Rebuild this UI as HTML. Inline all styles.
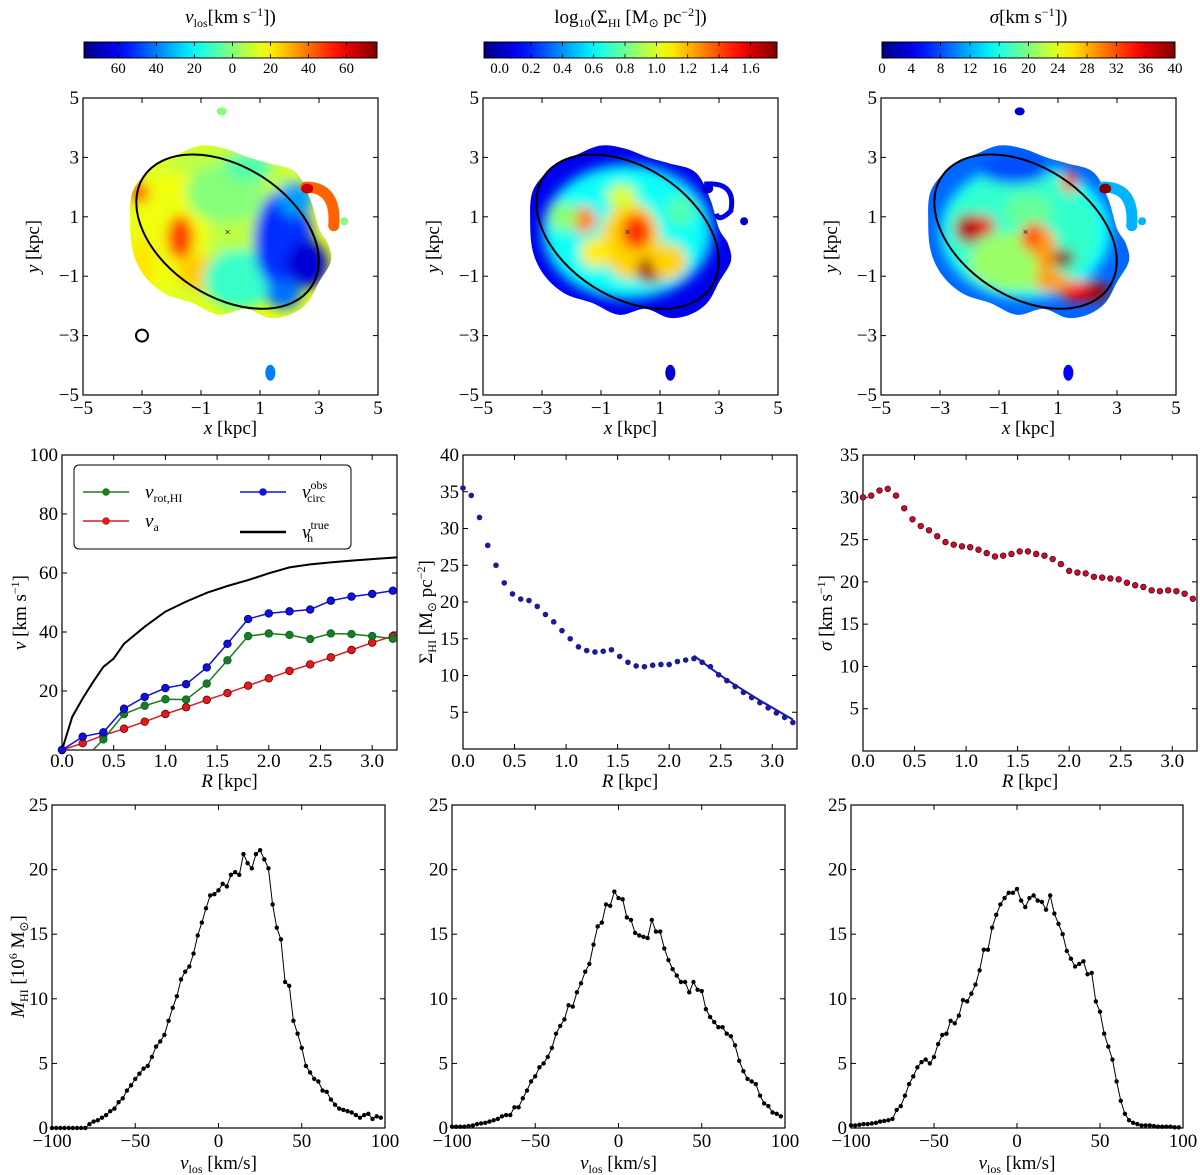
<!DOCTYPE html>
<html><head><meta charset="utf-8"><style>
html,body{margin:0;padding:0;background:#fff;}
svg{display:block;font-family:"Liberation Serif",serif;}
</style></head><body>
<svg id="fig" width="1200" height="1175" viewBox="0 0 1200 1175" xmlns="http://www.w3.org/2000/svg">
<defs>
<filter id="blur6" x="-20%" y="-20%" width="140%" height="140%"><feGaussianBlur stdDeviation="6"/></filter>
<filter id="blur3" x="-20%" y="-20%" width="140%" height="140%"><feGaussianBlur stdDeviation="2.5"/></filter>
</defs>
</svg>
<script>
// ---------- DATA ----------
const velStart = -100, velStep = 2.5;
const massLeft = [0,0,0,0,0,0,0,0,0,0.3,0.5,0.6,0.8,1.0,1.3,1.5,2.0,2.3,2.9,3.3,3.8,4.2,4.6,4.8,5.5,6.3,6.7,7.2,8.3,9.3,10.2,11.5,12.1,12.5,13.5,14.9,15.9,17.0,18.0,18.1,18.4,18.9,18.7,19.6,19.8,19.6,21.2,20.5,20.1,21.2,21.5,20.8,20.1,17.3,15.5,14.6,11.3,11.0,8.3,7.3,6.2,4.8,4.3,3.8,3.6,2.9,2.8,2.2,1.8,1.5,1.4,1.3,1.2,1.0,0.8,1.0,1.1,0.7,0.9,0.8];
const massMid = [0.1,0.1,0.1,0.1,0.15,0.2,0.3,0.35,0.4,0.5,0.6,0.7,0.9,1.0,1.0,1.6,1.6,2.3,2.9,3.6,4.0,4.7,5.0,5.5,6.2,7.3,7.9,8.4,9.5,9.4,10.5,11.2,12.1,12.7,14.2,15.6,15.9,17.3,17.2,18.3,17.8,17.7,16.3,16.1,15.1,14.9,14.8,14.7,16.1,15.2,15.2,13.9,13.0,12.3,11.8,11.3,11.3,10.5,11.3,10.7,10.6,9.2,8.6,8.2,7.8,7.8,7.3,7.1,6.4,5.2,4.4,3.8,3.6,3.4,2.5,1.9,1.7,1.2,1.1,0.9];
const massRight = [0.2,0.2,0.25,0.3,0.3,0.35,0.4,0.5,0.55,0.6,0.7,1.4,1.7,2.5,3.4,4.0,4.7,5.1,5.3,5.0,5.5,6.5,7.2,7.3,8.3,8.1,8.7,9.9,9.8,10.4,11.1,12.2,13.8,13.8,15.5,16.5,17.3,17.8,18.2,18.2,18.5,17.6,17.1,17.8,18.0,17.6,17.5,16.9,18.0,16.6,15.8,15.0,13.7,13.1,12.5,12.7,12.9,11.9,12.0,9.8,9.0,7.3,6.3,5.3,3.6,2.1,1.1,0.6,0.4,0.3,0.2,0.2,0.2,0.15,0.1,0.1,0.1,0.1,0.05,0.05];

const rCurve = [0,0.2,0.4,0.6,0.8,1.0,1.2,1.4,1.6,1.8,2.0,2.2,2.4,2.6,2.8,3.0,3.2];
const vCircObs = [0,4.5,6,14,18,21,22.3,28,36,44.4,46.3,47,47.6,50.6,52,52.9,54];
const vA = [0,2.3,5,7.2,9.6,12.2,14.5,17,19.3,21.8,24.3,26.8,29,31.4,33.9,36.4,38.6];
const rRot = [0.3,0.4,0.6,0.8,1.0,1.2,1.4,1.6,1.8,2.0,2.2,2.4,2.6,2.8,3.0,3.2];
const vRot = [0,3.6,12.2,15,17.2,17.1,22.5,30.4,38.6,39.5,39,37.6,39.5,39.3,38.6,37.7];
const rTrue = [0,0.1,0.2,0.3,0.4,0.5,0.6,0.8,1.0,1.2,1.4,1.6,1.8,2.0,2.2,2.4,2.6,2.8,3.0,3.24];
const vTrue = [0,11.3,17.5,23,28.2,31,36,41.8,46.9,50.3,53.3,55.6,57.6,59.9,61.9,62.9,63.6,64.2,64.7,65.3];

const profStep = 0.08;
const sigmaHI = [35.5,34.5,31.5,27.7,25.0,22.6,21.1,20.4,20.2,19.4,18.3,17.3,16.1,15.0,13.9,13.4,13.2,13.3,13.5,12.6,11.8,11.3,11.2,11.4,11.5,11.5,11.9,12.1,12.3,11.8,11.2,10.1,9.3,8.5,7.7,7.0,6.3,5.6,4.9,4.3,3.6];
const fitR = [2.24,2.4,2.56,2.72,2.88,3.04,3.2];
const fitSigma = [12.7,11.0,9.4,8.0,6.6,5.3,4.0];
const dispersion = [30.0,30.2,30.8,31.0,30.2,28.7,27.4,26.6,26.1,25.4,24.7,24.4,24.2,24.1,23.8,23.4,23.0,23.1,23.3,23.6,23.6,23.3,23.1,22.7,22.1,21.3,21.1,21.0,20.6,20.5,20.4,20.3,19.9,19.6,19.4,19.0,18.9,19.0,18.9,18.6,18.0];

// ---------- helpers ----------
const NS='http://www.w3.org/2000/svg';
const svg=document.getElementById('fig');
function mk(tag,attrs,parent){const e=document.createElementNS(NS,tag);for(const k in attrs)e.setAttribute(k,attrs[k]);(parent||svg).appendChild(e);return e;}
function lin(d0,d1,r0,r1){return v=>r0+(v-d0)*(r1-r0)/(d1-d0);}
function jet(t){t=Math.max(0,Math.min(1,t));const c=x=>Math.round(255*Math.max(0,Math.min(1,1.5-Math.abs(x))));return `rgb(${c(4*t-3)},${c(4*t-2)},${c(4*t-1)})`;}
function txt(x,y,s,size,anchor,parent){const t=mk('text',{x:x,y:y,'font-size':size,'text-anchor':anchor||'middle',fill:'#000'},parent);t.innerHTML=s;return t;}

function axesFrame(x0,y0,w,h,name){
  const g=mk('g',{});
  
  
  const r=mk('rect',{x:x0,y:y0,width:w,height:h,fill:'none',stroke:'#000','stroke-width':1.2},g);
  
  
  return g;
}
function xTicks(g,vals,labels,sx,y0,y1,labY,size){
  vals.forEach((v,i)=>{const x=sx(v);
    mk('line',{x1:x,x2:x,y1:y1,y2:y1-5,stroke:'#000','stroke-width':1},g);
    mk('line',{x1:x,x2:x,y1:y0,y2:y0+5,stroke:'#000','stroke-width':1},g);
    const t=txt(x,labY,labels[i],size,'middle',g);
    
    
  });
}
function yTicks(g,vals,labels,sy,x0,x1,size){
  vals.forEach((v,i)=>{const y=sy(v);
    mk('line',{x1:x0,x2:x0+5,y1:y,y2:y,stroke:'#000','stroke-width':1},g);
    mk('line',{x1:x1,x2:x1-5,y1:y,y2:y,stroke:'#000','stroke-width':1},g);
    const t=txt(x0-4,y+6,labels[i],size,'end',g);
    
    
  });
}
function yTitle(x,y,s,name){const t=mk('text',{x:0,y:0,'font-size':19,'text-anchor':'middle',transform:`translate(${x},${y}) rotate(-90)`});t.innerHTML=s;}
function xTitle(x,y,s,name){const t=txt(x,y,s,19,'middle');}
function polyline(g,xs,ys,sx,sy,color,w,name){
  const pts=xs.map((x,i)=>sx(x).toFixed(1)+','+sy(ys[i]).toFixed(1)).join(' ');
  const p=mk('polyline',{points:pts,fill:'none',stroke:color,'stroke-width':w},g);
  
  
}
function markers(g,xs,ys,sx,sy,fill,r,stroke,name){
  xs.forEach((x,i)=>{const c=mk('circle',{cx:sx(x),cy:sy(ys[i]),r:r,fill:fill,stroke:stroke,'stroke-width':0.8},g);
    
    });
}
function smoothClosed(pts){
  const n=pts.length;let d=`M${pts[0][0].toFixed(1)},${pts[0][1].toFixed(1)}`;
  for(let i=0;i<n;i++){const p0=pts[(i-1+n)%n],p1=pts[i],p2=pts[(i+1)%n],p3=pts[(i+2)%n];
    const c1=[p1[0]+(p2[0]-p0[0])/6,p1[1]+(p2[1]-p0[1])/6],c2=[p2[0]-(p3[0]-p1[0])/6,p2[1]-(p3[1]-p1[1])/6];
    d+=` C${c1[0].toFixed(1)},${c1[1].toFixed(1)} ${c2[0].toFixed(1)},${c2[1].toFixed(1)} ${p2[0].toFixed(1)},${p2[1].toFixed(1)}`;}
  return d+'Z';
}

// ---------- TOP ROW: maps ----------
const galaxyOutline=[[-3.3,1.9],[-2.6,2.7],[-1.8,3.1],[-1.0,3.4],[-0.2,3.3],[0.6,3.0],[1.3,2.8],[2.2,2.5],[2.7,1.6],[3.0,0.6],[3.3,0.1],[3.4,-0.5],[3.0,-1.2],[2.6,-1.9],[2.0,-2.3],[1.3,-2.4],[0.5,-2.1],[-0.4,-2.3],[-1.3,-1.9],[-2.2,-1.6],[-2.9,-1.0],[-3.3,-0.2],[-3.4,0.8]];
const mapVlos=[[-0.3,0.8,3.0,2.6,8],[-2.0,0.6,1.3,2.0,16],[-1.7,0.3,0.45,0.75,48],[-1.0,-0.9,0.8,0.6,26],[-3.1,1.8,0.35,0.35,42],[0.3,-1.1,1.2,1.0,-12],[-0.2,1.8,1.3,1.0,0],[1.8,0.2,1.0,1.7,-52],[2.6,-0.6,0.7,0.8,-65],[1.8,-1.6,0.6,0.5,-42],[2.2,1.6,0.6,0.6,-35],[0.6,2.7,0.8,0.5,-8],[-3.0,-0.6,0.4,0.9,22]];
const mapSigmaHI=[[-0.2,0.5,2.6,2.1,0.62],[0,0.2,1.0,1.3,1.15],[0.2,0.5,0.5,0.6,1.45],[0.7,-0.8,0.5,0.45,1.7],[-1.2,-0.2,0.5,0.5,1.1],[-1.6,0.9,0.45,0.45,1.3],[1.3,-0.5,0.6,0.6,1.15],[-0.3,1.7,0.5,0.4,1.0],[-2.3,1.0,0.5,0.5,0.85],[1.7,1.2,0.5,0.5,0.75]];
const mapDisp=[[-0.2,0.5,2.6,2.1,17],[-0.5,-0.5,1.5,1.0,21],[0,1.2,0.8,0.6,19],[-2.0,0.6,0.5,0.5,38],[-1.5,0.7,0.35,0.35,36],[0.2,0.3,0.45,0.5,32],[0.6,-0.2,0.35,0.8,29],[1.2,-0.4,0.35,0.3,40],[1.8,-1.5,0.8,0.35,35],[2.3,-1.5,0.4,0.35,38],[1.4,2.2,0.25,0.4,33],[0.8,-1.2,0.6,0.35,29],[-0.5,2.6,1.2,0.5,8]];

function drawMap(cx,title,cbTicks,cbLabels,cmin,cmax,patches,baseVal,edgeVal,extra,name,idx){
  const X0=cx, Y0=98, W=295, H=297;
  const sx=lin(-5,5,X0,X0+W), sy=lin(-5,5,Y0+H,Y0);
  const norm=v=>(v-cmin)/(cmax-cmin);
  const tt=txt(X0+W/2,23,title,19,'middle');
  
  
  const gid='cbgrad'+idx;
  const lg=mk('linearGradient',{id:gid,x1:0,x2:1,y1:0,y2:0},svg.querySelector('defs'));
  for(let i=0;i<=20;i++){mk('stop',{offset:(i/20),'stop-color':jet(i/20)},lg);}
  const cb=mk('rect',{x:X0+1,y:42,width:W-2,height:16,fill:`url(#${gid})`,stroke:'#000','stroke-width':1});
  
  
  const cbs=lin(cmin,cmax,X0+1,X0+W-1);
  cbTicks.forEach((v,i)=>{const x=cbs(v);
    mk('line',{x1:x,x2:x,y1:42,y2:46,stroke:'#000','stroke-width':0.8});
    mk('line',{x1:x,x2:x,y1:54,y2:58,stroke:'#000','stroke-width':0.8});
    const t=txt(x,73,cbLabels[i],15,'middle');
    
    });
  const g=axesFrame(X0,Y0,W,H,name+'-map');
  const clipId='clip'+idx;
  const cp=mk('clipPath',{id:clipId},svg.querySelector('defs'));
  mk('path',{d:smoothClosed(galaxyOutline.map(p=>[sx(p[0]),sy(p[1])]))},cp);
  const body=mk('g',{'clip-path':`url(#${clipId})`},g);
  
  
  mk('rect',{x:X0,y:Y0,width:W,height:H,fill:jet(norm(edgeVal))},body);
  const blurG=mk('g',{filter:'url(#blur6)'},body);
  mk('ellipse',{cx:sx(-0.1),cy:sy(0.5),rx:2.9*29.5,ry:2.3*29.5,fill:jet(norm(baseVal))},blurG);
  patches.forEach(p=>{const e=mk('ellipse',{cx:sx(p[0]),cy:sy(p[1]),rx:p[2]*29.5,ry:p[3]*29.5,fill:jet(norm(p[4]))},blurG);
    
    });
  extra(g,sx,sy,norm);
  const el=mk('ellipse',{cx:0,cy:0,rx:3.4*29.5,ry:2.2*29.5,fill:'none',stroke:'#000','stroke-width':2,transform:`translate(${sx(-0.1)},${sy(0.5)}) rotate(33)`},g);
  
  
  const c1=txt(sx(-0.1),sy(0.5)+4,'×',11,'middle',g);
  
  
  const tv=[-5,-3,-1,1,3,5], tl=['−5','−3','−1','1','3','5'];
  xTicks(g,tv,tl,sx,Y0,Y0+H,414,19);
  yTicks(g,tv,tl,sy,X0,X0+W,19);
  xTitle(X0+W/2,434,'<tspan font-style="italic">x</tspan> [kpc]',name+'-x-title');
  yTitle(X0-44,Y0+H/2,'<tspan font-style="italic">y</tspan> [kpc]',name+'-y-title');
}
function blob(g,x,y,rx,ry,col){const e=mk('ellipse',{cx:x,cy:y,rx:rx,ry:ry,fill:col},g);}
function commonExtras(g,sx,sy,topCol,botCol,rightCol,arcCol,arcEnd){
  blob(g,sx(-0.3),sy(4.55),5,4,topCol);
  blob(g,sx(1.35),sy(-4.25),5,8,botCol);
  blob(g,sx(3.85),sy(0.85),4,4,rightCol);
  const a=mk('path',{d:`M${sx(2.55)},${sy(2.0)} Q${sx(3.6)},${sy(2.0)} ${sx(3.5)},${sy(0.7)}`,fill:'none',stroke:arcCol,'stroke-width':11,'stroke-linecap':'round'},g);
  
  
  blob(g,sx(2.6),sy(1.95),6,5,arcEnd);
}
drawMap(83,'<tspan font-style="italic">v</tspan><tspan font-size="12" dy="4">los</tspan><tspan dy="-4">[km s</tspan><tspan font-size="12" dy="-7">−1</tspan><tspan dy="7">])</tspan>',
  [-60,-40,-20,0,20,40,60],['60','40','20','0','20','40','60'],-78,76,mapVlos,8,14,
  (g,sx,sy,n)=>{commonExtras(g,sx,sy,jet(n(0)),jet(n(-40)),jet(n(0)),jet(n(42)),jet(n(65)));
    const c=mk('circle',{cx:sx(-3.0),cy:sy(-3.0),r:6,fill:'none',stroke:'#000','stroke-width':2},g);
    
    },'vlos',0);
drawMap(483,'log<tspan font-size="12" dy="4">10</tspan><tspan dy="-4">(Σ</tspan><tspan font-size="12" dy="4">HI</tspan><tspan dy="-4"> [M</tspan><tspan font-size="12" dy="4">⊙</tspan><tspan dy="-4"> pc</tspan><tspan font-size="12" dy="-7">−2</tspan><tspan dy="7">])</tspan>',
  [0,0.2,0.4,0.6,0.8,1.0,1.2,1.4,1.6],['0.0','0.2','0.4','0.6','0.8','1.0','1.2','1.4','1.6'],-0.1,1.77,mapSigmaHI,0.55,0.1,
  (g,sx,sy,n)=>{commonExtras(g,sx,sy,'#fff',jet(n(0.05)),jet(n(0.05)),'none',jet(n(0.05)));
    const a=mk('path',{d:`M${sx(2.5)},${sy(2.1)} Q${sx(3.6)},${sy(2.2)} ${sx(3.4)},${sy(1.2)} Q${sx(3.0)},${sy(0.8)} ${sx(2.9)},${sy(1.1)}`,fill:'none',stroke:jet(n(0.1)),'stroke-width':5},g);
    
    },'sigma-hi',1);
drawMap(881,'<tspan font-style="italic">σ</tspan>[km s<tspan font-size="12" dy="-7">−1</tspan><tspan dy="7">])</tspan>',
  [0,4,8,12,16,20,24,28,32,36,40],['0','4','8','12','16','20','24','28','32','36','40'],0,40,mapDisp,15,9,
  (g,sx,sy,n)=>{commonExtras(g,sx,sy,jet(n(3)),jet(n(5)),jet(n(12)),jet(n(12)),jet(n(40)));},'dispersion',2);

// ---------- MIDDLE ROW ----------
(function(){
  const X0=62,Y0=455,W=335,H=295;
  const sx=lin(0,3.24,X0,X0+W), sy=lin(0,100,Y0+H,Y0);
  const g=axesFrame(X0,Y0,W,H,'rotation-curve-plot');
  xTicks(g,[0,0.5,1,1.5,2,2.5,3],['0.0','0.5','1.0','1.5','2.0','2.5','3.0'],sx,Y0,Y0+H,767,19);
  yTicks(g,[20,40,60,80,100],['20','40','60','80','100'],sy,X0,X0+W,19);
  polyline(g,rTrue,vTrue,sx,sy,'#000',2,'v-h-true-line');
  polyline(g,rCurve,vA,sx,sy,'#e31a1c',1.5,'v-a-line');
  markers(g,rCurve,vA,sx,sy,'#e31a1c',3.8,'#600','v-a-point');
  polyline(g,rRot,vRot,sx,sy,'#1e7a1e',1.5,'v-rot-line');
  markers(g,rRot.slice(1),vRot.slice(1),sx,sy,'#1e7a1e',3.8,'#063','v-rot-point');
  polyline(g,rCurve,vCircObs,sx,sy,'#1010e0',1.5,'v-circ-obs-line');
  markers(g,rCurve,vCircObs,sx,sy,'#1010e0',3.8,'#006','v-circ-obs-point');
  const lg=mk('g',{},g);
  
  
  mk('rect',{x:74,y:465,width:277,height:84,rx:5,fill:'#fff',stroke:'#000','stroke-width':1},lg);
  const entries=[[83,492,'#1e7a1e','<tspan font-style="italic">v</tspan><tspan font-size="12" dy="4">rot,HI</tspan>',true,'legend-v-rot'],
    [83,521,'#e31a1c','<tspan font-style="italic">v</tspan><tspan font-size="12" dy="4">a</tspan>',true,'legend-v-a'],
    [240,492,'#1010e0','<tspan font-style="italic">v</tspan><tspan font-size="12" dy="-9">obs</tspan><tspan font-size="12" dx="-20" dy="13">circ</tspan>',true,'legend-v-circ'],
    [240,532,'#000','<tspan font-style="italic">v</tspan><tspan font-size="12" dy="-9">true</tspan><tspan font-size="12" dx="-22" dy="13">h</tspan>',false,'legend-v-true']];
  entries.forEach(e=>{
    const le=mk('g',{},lg);
    
    
    mk('line',{x1:e[0],x2:e[0]+46,y1:e[1],y2:e[1],stroke:e[2],'stroke-width':e[4]?1.5:2.5},le);
    if(e[4])mk('circle',{cx:e[0]+23,cy:e[1],r:3.8,fill:e[2]},le);
    txt(e[0]+62,e[1]+6,e[3],19,'start',le);
  });
  xTitle(X0+W/2,787,'<tspan font-style="italic">R</tspan> [kpc]','rotation-x-title');
  yTitle(26,Y0+H/2+10,'<tspan font-style="italic">v</tspan> [km s<tspan font-size="12" dy="-7">−1</tspan><tspan dy="7">]</tspan>','rotation-y-title');
})();
(function(){
  const X0=463,Y0=455,W=334,H=294;
  const sx=lin(0,3.24,X0,X0+W), sy=lin(0,40,Y0+H,Y0);
  const g=axesFrame(X0,Y0,W,H,'surface-density-plot');
  xTicks(g,[0,0.5,1,1.5,2,2.5,3],['0.0','0.5','1.0','1.5','2.0','2.5','3.0'],sx,Y0,Y0+H,767,19);
  yTicks(g,[5,10,15,20,25,30,35,40],['5','10','15','20','25','30','35','40'],sy,X0,X0+W,19);
  const rs=sigmaHI.map((v,i)=>i*profStep);
  polyline(g,fitR,fitSigma,sx,sy,'#1515c8',2,'surface-density-fit');
  markers(g,rs,sigmaHI,sx,sy,'#1a1a9a',2.8,'none','surface-density-point');
  xTitle(X0+W/2,787,'<tspan font-style="italic">R</tspan> [kpc]','surface-density-x-title');
  yTitle(432,Y0+H/2+10,'Σ<tspan font-size="12" dy="4">HI</tspan><tspan dy="-4"> [M</tspan><tspan font-size="12" dy="4">⊙</tspan><tspan dy="-4"> pc</tspan><tspan font-size="12" dy="-7">−2</tspan><tspan dy="7">]</tspan>','surface-density-y-title');
})();
(function(){
  const X0=863,Y0=455,W=334,H=296;
  const sx=lin(0,3.24,X0,X0+W), sy=lin(0,35,Y0+H,Y0);
  const g=axesFrame(X0,Y0,W,H,'dispersion-plot');
  xTicks(g,[0,0.5,1,1.5,2,2.5,3],['0.0','0.5','1.0','1.5','2.0','2.5','3.0'],sx,Y0,Y0+H,767,19);
  yTicks(g,[5,10,15,20,25,30,35],['5','10','15','20','25','30','35'],sy,X0,X0+W,19);
  const rs=dispersion.map((v,i)=>i*profStep);
  markers(g,rs,dispersion,sx,sy,'#c8102e',2.8,'#5a0010','dispersion-point');
  xTitle(X0+W/2,787,'<tspan font-style="italic">R</tspan> [kpc]','dispersion-x-title');
  yTitle(832,Y0+H/2+10,'<tspan font-style="italic">σ</tspan> [km s<tspan font-size="12" dy="-7">−1</tspan><tspan dy="7">]</tspan>','dispersion-y-title');
})();

// ---------- BOTTOM ROW ----------
function massPlot(X0,W,vals,name,withTitle){
  const Y0=805,H=323;
  const sx=lin(-100,100,X0,X0+W), sy=lin(0,25,Y0+H,Y0);
  const g=axesFrame(X0,Y0,W,H,name);
  xTicks(g,[-100,-50,0,50,100],['−100','−50','0','50','100'],sx,Y0,Y0+H,1147,19);
  yTicks(g,[0,5,10,15,20,25],['0','5','10','15','20','25'],sy,X0,X0+W,19);
  const vs=vals.map((v,i)=>velStart+i*velStep);
  polyline(g,vs,vals,sx,sy,'#000',1,name+'-line');
  markers(g,vs,vals,sx,sy,'#000',2.2,'none',name+'-point');
  xTitle(X0+W/2,1169,'<tspan font-style="italic">v</tspan><tspan font-size="12" dy="4">los</tspan><tspan dy="-4"> [km/s]</tspan>',name+'-x-title');
  if(withTitle) yTitle(24,Y0+H/2,'<tspan font-style="italic">M</tspan><tspan font-size="12" dy="4">HI</tspan><tspan dy="-4"> [10</tspan><tspan font-size="12" dy="-7">6</tspan><tspan dy="7"> M</tspan><tspan font-size="12" dy="4">⊙</tspan><tspan dy="-4">]</tspan>',name+'-y-title');
}
massPlot(52,333,massLeft,'mass-profile-left',true);
massPlot(452,333,massMid,'mass-profile-middle',false);
massPlot(851,332,massRight,'mass-profile-right',false);
</script>
</body></html>
